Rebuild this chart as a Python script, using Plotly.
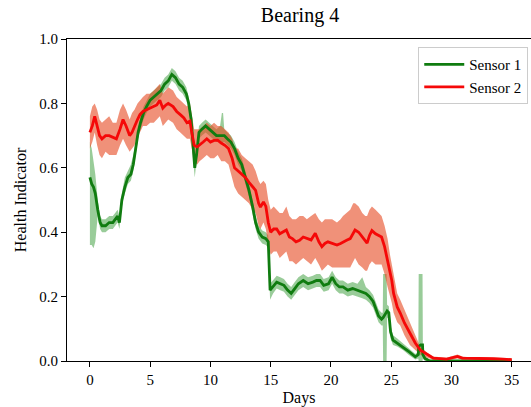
import plotly.graph_objects as go

# Sensor 1 health indicator with its uncertainty band
s1_days = [0.0, 0.15, 0.30, 0.45, 0.65, 0.85, 1.0, 1.3, 1.6, 1.9, 2.1, 2.3, 2.45, 2.65, 2.9,
           3.15, 3.4, 3.6, 3.8, 4.0, 4.2, 4.45, 4.7, 5.0, 5.3, 5.6, 5.9, 6.2, 6.5, 6.8,
           7.1, 7.4, 7.7, 8.0, 8.2, 8.4, 8.55, 8.7, 8.85, 9.05, 9.3, 9.6, 9.9, 10.2, 10.5,
           10.8, 10.95, 11.05, 11.15, 11.4, 11.7, 12.0, 12.3, 12.6, 12.9, 13.2, 13.5, 13.75, 14.0,
           14.3, 14.6, 14.8, 14.95, 15.2, 15.5, 15.8, 16.1, 16.4, 16.7, 17.0, 17.3, 17.7,
           18.1, 18.5, 18.8, 19.1, 19.4, 19.8, 20.1, 20.4, 20.7, 21.0, 21.4, 21.8, 22.2,
           22.6, 22.9, 23.2, 23.5, 23.75, 23.95, 24.2, 24.3, 24.33, 24.5, 24.62, 24.66, 24.8,
           24.95, 25.15, 25.5, 26.0, 26.5, 27.0, 27.25, 27.28, 27.45, 27.6, 27.63, 27.8,
           28.2, 29.0, 30.0, 31.0, 32.0, 33.0, 34.0, 35.0]
s1_value = [0.57, 0.55, 0.54, 0.52, 0.47, 0.43, 0.42, 0.42, 0.43, 0.43, 0.44, 0.45, 0.43, 0.50, 0.54,
            0.57, 0.58, 0.61, 0.66, 0.71, 0.74, 0.77, 0.79, 0.81, 0.82, 0.83, 0.84, 0.86, 0.87, 0.89,
            0.88, 0.86, 0.85, 0.83, 0.80, 0.75, 0.66, 0.60, 0.64, 0.71, 0.72, 0.73, 0.72, 0.71, 0.70,
            0.70, 0.70, 0.70, 0.70, 0.69, 0.68, 0.66, 0.63, 0.61, 0.57, 0.53, 0.48, 0.43, 0.40,
            0.385, 0.38, 0.37, 0.22, 0.23, 0.245, 0.24, 0.235, 0.22, 0.21, 0.225, 0.24, 0.25,
            0.24, 0.245, 0.25, 0.25, 0.235, 0.24, 0.26, 0.24, 0.23, 0.23, 0.22, 0.225, 0.22,
            0.215, 0.21, 0.20, 0.185, 0.16, 0.14, 0.13, 0.132, 0.135, 0.145, 0.155, 0.155, 0.15,
            0.09, 0.065, 0.056, 0.043, 0.028, 0.013, 0.02, 0.045, 0.05, 0.05, 0.02, 0.008,
            0.0, 0.0, 0.0, 0.0, 0.0, 0.0, 0.0, 0.0]
s1_lower = [0.36, 0.36, 0.35, 0.37, 0.45, 0.41, 0.40, 0.40, 0.41, 0.41, 0.42, 0.43, 0.41, 0.48, 0.52,
            0.55, 0.56, 0.59, 0.64, 0.69, 0.72, 0.75, 0.77, 0.79, 0.80, 0.81, 0.82, 0.84, 0.85, 0.87,
            0.86, 0.84, 0.83, 0.81, 0.78, 0.73, 0.63, 0.57, 0.62, 0.69, 0.70, 0.71, 0.70, 0.69, 0.68,
            0.68, 0.68, 0.68, 0.68, 0.67, 0.66, 0.64, 0.61, 0.59, 0.55, 0.51, 0.46, 0.41, 0.38,
            0.365, 0.36, 0.35, 0.19, 0.21, 0.225, 0.22, 0.215, 0.20, 0.19, 0.205, 0.22, 0.23,
            0.22, 0.225, 0.23, 0.23, 0.215, 0.22, 0.24, 0.22, 0.21, 0.21, 0.20, 0.205, 0.20,
            0.195, 0.19, 0.18, 0.165, 0.14, 0.12, 0.11, 0.11, 0.0, 0.0, 0.0, 0.135, 0.13,
            0.07, 0.05, 0.045, 0.033, 0.018, 0.005, 0.008, 0.0, 0.0, 0.0, 0.008, 0.0,
            0.0, 0.0, 0.0, 0.0, 0.0, 0.0, 0.0, 0.0]
s1_upper = [0.68, 0.66, 0.62, 0.58, 0.50, 0.45, 0.44, 0.44, 0.45, 0.45, 0.46, 0.47, 0.45, 0.52, 0.57,
            0.59, 0.61, 0.64, 0.68, 0.73, 0.76, 0.79, 0.81, 0.83, 0.84, 0.85, 0.86, 0.88, 0.89, 0.91,
            0.90, 0.88, 0.87, 0.85, 0.82, 0.77, 0.68, 0.62, 0.66, 0.73, 0.74, 0.75, 0.74, 0.73, 0.72,
            0.73, 0.77, 0.77, 0.72, 0.71, 0.70, 0.68, 0.65, 0.63, 0.59, 0.55, 0.50, 0.45, 0.42,
            0.405, 0.40, 0.39, 0.24, 0.25, 0.265, 0.26, 0.255, 0.24, 0.23, 0.245, 0.26, 0.27,
            0.26, 0.265, 0.27, 0.27, 0.255, 0.26, 0.28, 0.26, 0.25, 0.25, 0.24, 0.245, 0.24,
            0.26, 0.23, 0.22, 0.205, 0.18, 0.16, 0.15, 0.15, 0.27, 0.27, 0.27, 0.175, 0.17,
            0.11, 0.08, 0.07, 0.055, 0.038, 0.022, 0.03, 0.27, 0.27, 0.27, 0.03, 0.015,
            0.004, 0.0, 0.0, 0.0, 0.0, 0.0, 0.0, 0.0]

# Sensor 2 health indicator with its uncertainty band
s2_days = [0.0, 0.2, 0.4, 0.6, 0.8, 1.0, 1.3, 1.6, 1.9, 2.2, 2.5, 2.75, 3.0, 3.3, 3.5, 3.7,
           3.95, 4.15, 4.4, 4.7, 5.0, 5.3, 5.55, 5.8, 6.05, 6.3, 6.5, 6.9, 7.2, 7.5, 7.8,
           8.05, 8.3, 8.45, 8.65, 8.9, 9.1, 9.4, 9.7, 10.0, 10.3, 10.6, 10.9, 11.2, 11.5,
           11.8, 12.0, 12.3, 12.6, 12.9, 13.2, 13.5, 13.75, 14.0, 14.15, 14.4, 14.6, 14.8,
           15.0, 15.25, 15.5, 15.75, 16.0, 16.3, 16.55, 16.8, 17.1, 17.4, 17.7, 18.0, 18.35,
           18.7, 19.0, 19.25, 19.5, 19.75, 20.1, 20.5, 20.8, 21.0, 21.3, 21.6, 21.85, 22.0,
           22.3, 22.6, 22.85, 23.0, 23.2, 23.4, 23.7, 23.95, 24.2, 24.45, 24.7, 24.9, 25.05,
           25.2, 25.5, 25.75, 26.1, 26.55, 27.0, 27.4, 28.0, 28.5, 29.6, 30.1, 30.5, 30.9,
           31.5, 32.4, 33.5, 34.3, 35.0]
s2_value = [0.71, 0.73, 0.76, 0.73, 0.70, 0.69, 0.70, 0.70, 0.695, 0.69, 0.72, 0.75, 0.73, 0.70, 0.71, 0.73,
            0.75, 0.765, 0.775, 0.78, 0.785, 0.79, 0.795, 0.81, 0.785, 0.795, 0.80, 0.79, 0.775, 0.765, 0.755,
            0.74, 0.745, 0.71, 0.67, 0.665, 0.67, 0.68, 0.69, 0.68, 0.685, 0.686, 0.677, 0.67, 0.66,
            0.63, 0.60, 0.59, 0.58, 0.57, 0.555, 0.54, 0.53, 0.49, 0.478, 0.494, 0.48, 0.43,
            0.40, 0.41, 0.41, 0.395, 0.40, 0.407, 0.385, 0.38, 0.37, 0.375, 0.385, 0.38, 0.376,
            0.397, 0.37, 0.355, 0.365, 0.37, 0.365, 0.36, 0.365, 0.37, 0.375, 0.38, 0.40, 0.407,
            0.40, 0.385, 0.37, 0.366, 0.39, 0.405, 0.395, 0.39, 0.385, 0.355, 0.31, 0.27, 0.25,
            0.21, 0.168, 0.149, 0.118, 0.087, 0.056, 0.034, 0.019, 0.009, 0.006, 0.01, 0.014, 0.009,
            0.008, 0.008, 0.007, 0.006, 0.004]
s2_lower = [0.66, 0.68, 0.71, 0.67, 0.64, 0.63, 0.65, 0.64, 0.64, 0.64, 0.67, 0.69, 0.67, 0.65, 0.66, 0.67,
            0.70, 0.71, 0.73, 0.73, 0.74, 0.74, 0.75, 0.76, 0.73, 0.74, 0.75, 0.74, 0.72, 0.71, 0.70,
            0.69, 0.69, 0.66, 0.62, 0.61, 0.62, 0.63, 0.64, 0.63, 0.63, 0.64, 0.62, 0.62, 0.61,
            0.57, 0.54, 0.52, 0.51, 0.50, 0.49, 0.47, 0.46, 0.42, 0.41, 0.43, 0.41, 0.36,
            0.33, 0.34, 0.34, 0.32, 0.33, 0.34, 0.31, 0.31, 0.30, 0.31, 0.32, 0.31, 0.30,
            0.32, 0.30, 0.28, 0.29, 0.30, 0.29, 0.29, 0.29, 0.29, 0.29, 0.29, 0.31, 0.32,
            0.30, 0.29, 0.28, 0.28, 0.30, 0.31, 0.30, 0.30, 0.30, 0.27, 0.23, 0.20, 0.18,
            0.15, 0.12, 0.11, 0.08, 0.05, 0.035, 0.02, 0.01, 0.004, 0.002, 0.005, 0.008, 0.004,
            0.004, 0.004, 0.003, 0.002, 0.001]
s2_upper = [0.76, 0.79, 0.80, 0.78, 0.75, 0.74, 0.75, 0.76, 0.74, 0.74, 0.78, 0.80, 0.78, 0.75, 0.77, 0.78,
            0.80, 0.81, 0.82, 0.83, 0.83, 0.84, 0.85, 0.86, 0.83, 0.84, 0.85, 0.84, 0.82, 0.81, 0.80,
            0.79, 0.80, 0.76, 0.72, 0.72, 0.72, 0.73, 0.74, 0.73, 0.74, 0.73, 0.73, 0.72, 0.71,
            0.69, 0.66, 0.66, 0.64, 0.63, 0.62, 0.61, 0.59, 0.56, 0.55, 0.56, 0.55, 0.50,
            0.47, 0.48, 0.47, 0.46, 0.46, 0.48, 0.45, 0.44, 0.44, 0.45, 0.45, 0.44, 0.45,
            0.46, 0.44, 0.43, 0.44, 0.44, 0.44, 0.43, 0.44, 0.45, 0.46, 0.47, 0.49, 0.49,
            0.48, 0.46, 0.45, 0.45, 0.47, 0.48, 0.47, 0.46, 0.45, 0.42, 0.38, 0.33, 0.30,
            0.26, 0.21, 0.19, 0.16, 0.12, 0.08, 0.045, 0.026, 0.014, 0.01, 0.015, 0.02, 0.014,
            0.012, 0.012, 0.011, 0.01, 0.008]

x_ticks = [0, 5, 10, 15, 20, 25, 30, 35]
y_ticks = [0.0, 0.2, 0.4, 0.6, 0.8, 1.0]

FONT = "Liberation Serif"
GREEN = "rgb(16,124,16)"
RED = "rgb(245,8,8)"


def band(days, lower, upper, color):
    return go.Scatter(
        x=list(days) + list(days)[::-1],
        y=list(upper) + list(lower)[::-1],
        fill="toself", fillcolor=color, mode="lines",
        line=dict(width=0), hoverinfo="skip", showlegend=False,
    )


fig = go.Figure()
fig.add_trace(band(s1_days, s1_lower, s1_upper, "rgba(0,128,0,0.4)"))
fig.add_trace(band(s2_days, s2_lower, s2_upper, "rgba(230,72,32,0.6)"))
fig.add_trace(go.Scatter(x=s1_days, y=s1_value, mode="lines", name="Sensor 1",
                         line=dict(color=GREEN, width=2.8)))
fig.add_trace(go.Scatter(x=s2_days, y=s2_value, mode="lines", name="Sensor 2",
                         line=dict(color=RED, width=2.8)))

fig.update_layout(
    width=531, height=407,
    margin=dict(l=67, r=0, t=39, b=46),
    paper_bgcolor="white", plot_bgcolor="white",
    font=dict(family=FONT, size=15, color="black"),
    title=dict(text="Bearing 4", x=0.565, xanchor="center", y=0.963, yanchor="middle",
               font=dict(family=FONT, size=20, color="black")),
    legend=dict(x=0.757, y=0.975, xanchor="left", yanchor="top",
                bgcolor="white", bordercolor="#cccccc", borderwidth=1,
                font=dict(family=FONT, size=15), itemwidth=40, tracegroupgap=0),
    showlegend=True,
)
fig.update_xaxes(
    range=[-1.9, 36.6], tickvals=x_ticks, ticktext=[str(t) for t in x_ticks],
    showline=True, linecolor="black", linewidth=1.2, mirror=True,
    ticks="outside", ticklen=5, tickwidth=1.2, tickcolor="black",
    showgrid=False, zeroline=False,
    title=dict(text="Days", font=dict(family=FONT, size=16), standoff=4),
)
fig.update_yaxes(
    range=[0, 1], tickvals=y_ticks, ticktext=[f"{t:.1f}" for t in y_ticks],
    showline=True, linecolor="black", linewidth=1.2,
    ticks="outside", ticklen=5, tickwidth=1.2, tickcolor="black",
    showgrid=False, zeroline=False,
    title=dict(text="Health Indicator", font=dict(family=FONT, size=16), standoff=8),
)

fig.write_html("out.html")
